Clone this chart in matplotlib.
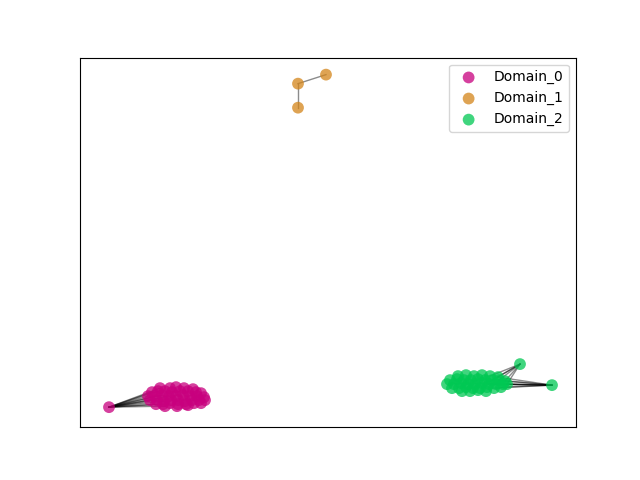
import matplotlib
matplotlib.use("Agg")
import matplotlib.pyplot as plt

# node positions (layout units), one list per domain
d0_x = [109,
        160, 170, 176, 184, 193,
        152, 158, 165, 172, 180, 188, 196, 201,
        148, 155, 162, 169, 176, 183, 190, 197, 204,
        150, 157, 164, 171, 178, 185, 192, 199, 205,
        156, 163, 170, 178, 186, 194, 201,
        165, 177, 188]
d0_y = [407,
        388, 388, 387, 388, 389,
        392, 391, 391, 392, 391, 391, 392, 393,
        396, 396, 395, 396, 396, 395, 396, 396, 397,
        400, 400, 401, 400, 400, 401, 400, 400, 400,
        404, 404, 403, 404, 404, 403, 403,
        406, 406, 405]
d0_edges = [(0, 6), (0, 14), (0, 15), (0, 23), (0, 24), (0, 32), (0, 16),
            (0, 7), (0, 25), (0, 33), (0, 1), (0, 17), (0, 39)]

d1_x = [298, 326, 298]
d1_y = [84, 75, 108]
d1_edges = [(0, 1), (0, 2)]

d2_x = [520, 552,
        458, 466, 474, 482, 490, 498,
        450, 457, 464, 471, 478, 485, 492, 499, 505,
        447, 454, 461, 468, 475, 482, 489, 496, 503, 507,
        452, 459, 466, 473, 480, 487, 494, 501,
        462, 470, 478, 486]
d2_y = [364, 385,
        376, 375, 376, 375, 376, 377,
        380, 379, 380, 380, 379, 380, 380, 380, 381,
        384, 384, 383, 384, 384, 383, 384, 384, 384, 384,
        388, 388, 387, 388, 388, 387, 388, 387,
        391, 391, 390, 391]
d2_edges = [(0, 7), (0, 16), (0, 15), (0, 6), (0, 14), (0, 26),
            (1, 26), (1, 25), (1, 16), (1, 34), (1, 24), (1, 15), (1, 33),
            (1, 7), (1, 23)]

domains = ["Domain_0", "Domain_1", "Domain_2"]
colors = ["#c8007e", "#d4851a", "#00c853"]

fig, ax = plt.subplots(figsize=(6.4, 4.8), dpi=100)

for xs, ys, edges, c, nm in [(d0_x, d0_y, d0_edges, colors[0], domains[0]),
                             (d1_x, d1_y, d1_edges, colors[1], domains[1]),
                             (d2_x, d2_y, d2_edges, colors[2], domains[2])]:
  for i, j in edges:
    ax.plot([xs[i], xs[j]], [ys[i], ys[j]], color="black", alpha=0.45, lw=1, zorder=1)
  ax.scatter(xs, ys, s=72, color=c, alpha=0.75, edgecolors="none", label=nm, zorder=2)

ax.set_xlim(80, 576)
ax.set_ylim(427, 58)
ax.set_xticks([])
ax.set_yticks([])
ax.legend(loc="upper right")

fig.savefig("out.png", dpi=100)
